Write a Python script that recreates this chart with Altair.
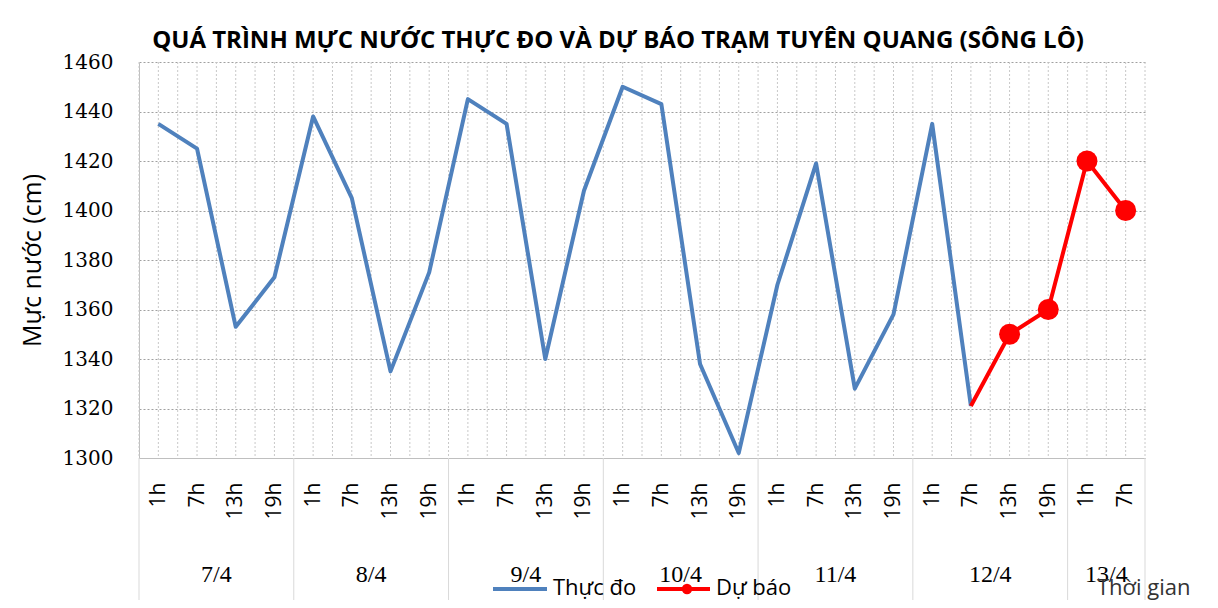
import json
import altair as alt
import pandas as pd

# ---- data ----
title_text = "QUÁ TRÌNH MỰC NƯỚC THỰC ĐO VÀ DỰ BÁO TRẠM TUYÊN QUANG (SÔNG LÔ)"
days = ["7/4", "8/4", "9/4", "10/4", "11/4", "12/4", "13/4"]
day_hours = [["1h", "7h", "13h", "19h"]] * 6 + [["1h", "7h"]]
observed = [1435, 1425, 1353, 1373,
            1438, 1405, 1335, 1375,
            1445, 1435, 1340, 1408,
            1450, 1443, 1338, 1302,
            1370, 1419, 1328, 1358,
            1435, 1321]
forecast = [1321, 1350, 1360, 1420, 1400]
forecast_start = 21  # 12/4 7h
y_ticks = list(range(1300, 1461, 20))

hour_labels = [h for hs in day_hours for h in hs]
n = len(hour_labels)

obs_df = pd.DataFrame({"idx": list(range(len(observed))), "value": observed})
fc_df = pd.DataFrame({"idx": list(range(forecast_start, forecast_start + len(forecast))),
                      "value": forecast})
fc_pts = fc_df.iloc[1:].reset_index(drop=True)

starts = []
s = 0
for hs in day_hours:
    starts.append(s)
    s += len(hs)
day_df = pd.DataFrame({"idx": [st + (len(hs) - 1) / 2 for st, hs in zip(starts, day_hours)],
                       "day": days})
sep_df = pd.DataFrame({"idx": [st - 0.5 for st in starts] + [n - 0.5]})
grid_df = pd.DataFrame({"idx": [i / 2 - 0.5 for i in range(2 * n + 1)]})

W, H = 1006, 396
SANS = "Open Sans"

xs = alt.Scale(domain=[-0.5, n - 0.5], nice=False, zero=False)
ys = alt.Scale(domain=[1300, 1460], nice=False, zero=False)

x_axis = alt.Axis(values=list(range(n)),
                  labelExpr=json.dumps(hour_labels) + "[datum.value]",
                  labelAngle=270, labelAlign="right", labelBaseline="middle",
                  labelFont=SANS, labelFontSize=21, labelColor="#000000",
                  labelPadding=24, labelOverlap=False, labelFlush=False,
                  ticks=False, grid=False, title=None,
                  domainColor="#bfbfbf", domainWidth=1)
y_axis = alt.Axis(values=y_ticks, format="d", title="Mực nước (cm)",
                  titleFont=SANS, titleFontSize=25, titleFontWeight="normal",
                  titleColor="#000000", titleAngle=270, titleX=-107, titleY=H / 2,
                  titleAlign="center", titleBaseline="middle",
                  labelFont="DejaVu Serif", labelFontSize=20, labelColor="#000000",
                  labelPadding=26, ticks=False, grid=True, gridColor="#a0a0a0",
                  gridDash=[2, 2], gridWidth=1, domainColor="#bfbfbf", domainWidth=1)

X = alt.X("idx:Q", scale=xs, axis=x_axis)
Y = alt.Y("value:Q", scale=ys, axis=y_axis)

vgrid = alt.Chart(grid_df).mark_rule(color="#c8c8c8", strokeDash=[2, 2], strokeWidth=1).encode(x=X)

obs_line = alt.Chart(obs_df).mark_line(color="#4f81bd", strokeWidth=4, strokeJoin="round").encode(
    x=X, y=Y)

fc_line = alt.Chart(fc_df).mark_line(color="#ff0000", strokeWidth=4, strokeJoin="round").encode(
    x=X, y=Y)

fc_dots = alt.Chart(fc_pts).mark_circle(color="#ff0000", size=440, opacity=1).encode(x=X, y=Y)

seps = alt.Chart(sep_df).mark_rule(color="#d9d9d9", strokeWidth=1).encode(
    x=X, y=alt.value(H), y2=alt.value(H + 146))

day_text = alt.Chart(day_df).mark_text(font="Liberation Serif", fontSize=24, align="center",
                                       baseline="alphabetic", color="#000000").encode(
    x=X, y=alt.value(H + 124), text="day:N")

one = alt.Data(values=[{"k": 1}])
title_mark = alt.Chart(one).mark_text(text=title_text, font=SANS, fontSize=24, fontWeight="bold",
                                      align="center", baseline="alphabetic", color="#000000").encode(
    x=alt.value(W / 2 - 24), y=alt.value(-14))
leg_blue = alt.Chart(one).mark_rule(color="#4f81bd", strokeWidth=4).encode(
    x=alt.value(354), x2=alt.value(408), y=alt.value(527))
leg_blue_t = alt.Chart(one).mark_text(text="Thực đo", font=SANS, fontSize=22, align="left",
                                      baseline="alphabetic", color="#000000").encode(
    x=alt.value(414), y=alt.value(533))
leg_red = alt.Chart(one).mark_rule(color="#ff0000", strokeWidth=4).encode(
    x=alt.value(518), x2=alt.value(571), y=alt.value(527))
leg_red_dot = alt.Chart(one).mark_circle(color="#ff0000", size=110, opacity=1).encode(
    x=alt.value(548), y=alt.value(527))
leg_red_t = alt.Chart(one).mark_text(text="Dự báo", font=SANS, fontSize=22, align="left",
                                     baseline="alphabetic", color="#000000").encode(
    x=alt.value(577), y=alt.value(533))
xtitle = alt.Chart(one).mark_text(text="Thời gian", font=SANS, fontSize=22, align="left",
                                  baseline="alphabetic", color="#333333").encode(
    x=alt.value(958), y=alt.value(533))

chart = alt.layer(
    vgrid, seps, obs_line, fc_line, fc_dots, day_text, title_mark,
    leg_blue, leg_blue_t, leg_red, leg_red_dot, leg_red_t, xtitle
).properties(
    width=W, height=H,
    autosize="none",
    padding={"left": 131, "top": 54, "right": 65, "bottom": 142},
).configure_view(stroke=None)

chart.save("out.html", embed_options={"renderer": "svg", "actions": False})
